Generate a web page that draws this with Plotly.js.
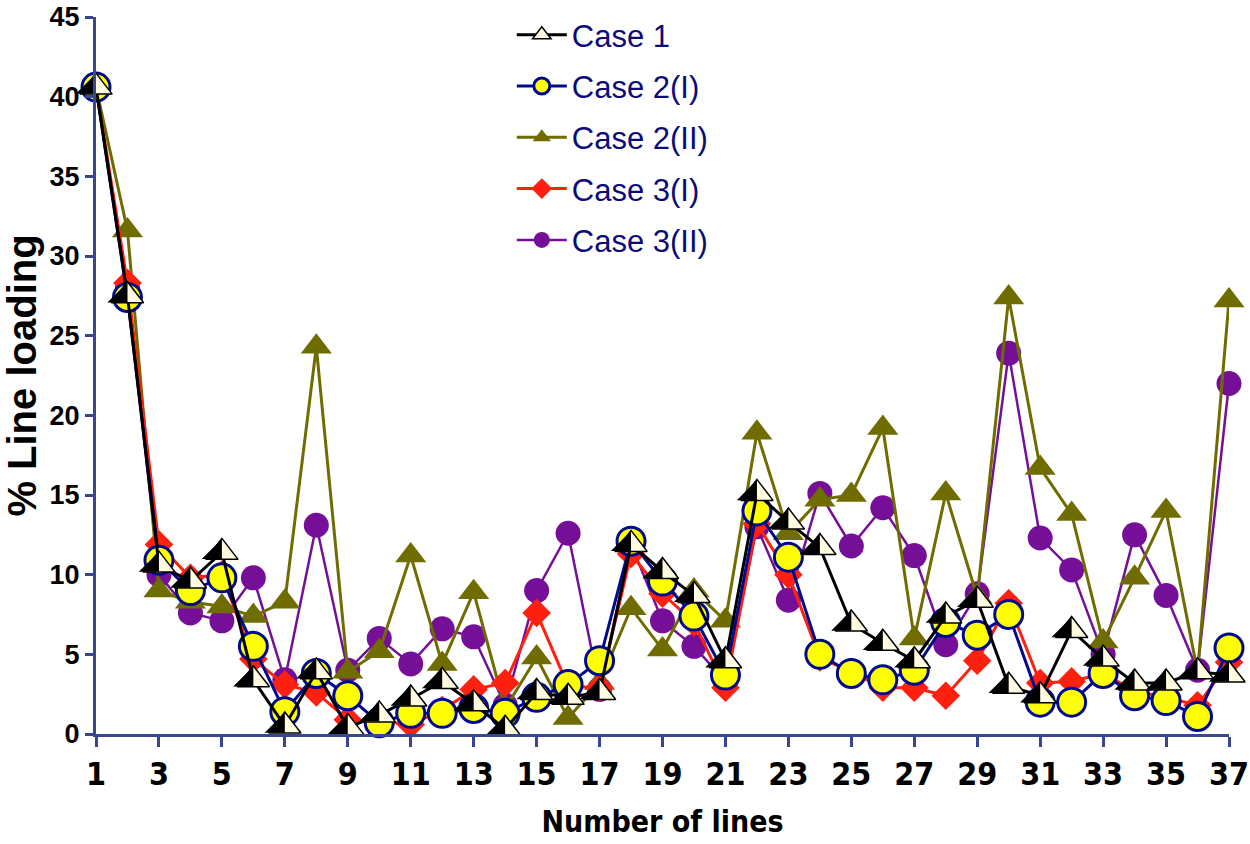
<!DOCTYPE html>
<html>
<head>
<meta charset="utf-8">
<script src="https://cdn.plot.ly/plotly-3.0.1.min.js"></script>
<style>
  html, body { margin: 0; padding: 0; background: #ffffff; }
  #chart { width: 1250px; height: 844px; }
</style>
</head>
<body>
<div id="chart"></div>
<script>
// Line number along the network
const lineNo = [1, 2, 3, 4, 5, 6, 7, 8, 9, 10, 11, 12, 13, 14, 15, 16, 17, 18, 19,
  20, 21, 22, 23, 24, 25, 26, 27, 28, 29, 30, 31, 32, 33, 34, 35, 36, 37];

// % line loading for each case
const case1 = [40.6, 27.5, 10.6, 9.6, 11.4, 3.4, 0.5, 3.9, 0.4, 1.2, 2.2, 3.3, 1.9, 0.3,
  2.6, 2.3, 2.6, 11.9, 10.2, 8.7, 4.6, 15.1, 13.3, 11.7, 6.9, 5.7, 4.6, 7.4, 8.4,
  3.0, 2.4, 6.5, 4.7, 3.2, 3.2, 3.9, 3.7];
const case2I = [40.6, 27.4, 10.9, 9.0, 9.8, 5.5, 1.4, 3.8, 2.4, 0.7, 1.3, 1.3, 1.6, 1.3,
  2.3, 3.1, 4.6, 12.1, 9.6, 7.4, 3.7, 14.0, 11.1, 5.0, 3.8, 3.4, 4.0, 7.0, 6.2,
  7.5, 2.0, 2.0, 3.8, 2.4, 2.1, 1.1, 5.4];
const case2II = [40.6, 31.6, 9.0, 8.3, 8.0, 7.4, 8.3, 24.3, 3.9, 5.2, 11.2, 4.4, 8.9, 1.6,
  4.8, 1.0, 3.2, 7.9, 5.3, 9.0, 7.1, 18.9, 12.6, 14.7, 15.0, 19.2, 6.0, 15.1, 8.6,
  27.4, 16.7, 13.8, 5.8, 9.8, 14.0, 3.9, 27.2];
const case3I = [40.6, 28.3, 11.9, 9.8, 10.0, 4.7, 3.1, 2.6, 0.9, 0.8, 0.6, 1.5, 2.8, 3.2,
  7.6, 3.0, 2.9, 11.3, 8.8, 7.0, 2.9, 13.2, 10.0, 4.8, 3.9, 2.9, 2.9, 2.4, 4.6,
  8.2, 3.2, 3.3, 3.8, 2.7, 2.3, 1.8, 4.5];
const case3II = [40.6, 28.0, 10.0, 7.6, 7.1, 9.8, 3.4, 13.1, 4.0, 6.0, 4.4, 6.6, 6.1, 1.8,
  9.0, 12.6, 2.8, 11.9, 7.1, 5.5, 3.3, 13.0, 8.4, 15.1, 11.8, 14.2, 11.2, 5.6, 8.8,
  23.9, 12.3, 10.3, 5.0, 12.5, 8.7, 4.0, 22.0];

// Axis tick labels
const xTickVals = [1, 3, 5, 7, 9, 11, 13, 15, 17, 19, 21, 23, 25, 27, 29, 31, 33, 35, 37];
const xTickText = ['1', '3', '5', '7', '9', '11', '13', '15', '17', '19', '21', '23', '25',
  '27', '29', '31', '33', '35', '37'];
const yTickVals = [0, 5, 10, 15, 20, 25, 30, 35, 40, 45];

const AXIS = '#3b4690';
const LEGEND_TEXT = '#0b0b7a';
const NARROW = '"Liberation Sans Narrow", "DejaVu Sans Condensed", "Liberation Sans", Arial, sans-serif';
const SANS = '"Liberation Sans", Arial, sans-serif';

const TRI = 28;  // size of the Case 1 triangles

const base = { x: lineNo, type: 'scatter', mode: 'lines+markers', cliponaxis: false };

const traces = [
  Object.assign({}, base, {
    name: 'Case 3(II)', y: case3II, legendgroup: 'g5', legendrank: 5,
    line: { color: '#750f98', width: 2.5 },
    marker: { symbol: 'circle', size: 25, color: '#750f98' }
  }),
  Object.assign({}, base, {
    name: 'Case 2(II)', y: case2II, legendgroup: 'g3', legendrank: 3,
    line: { color: '#6f6c00', width: 3 },
    marker: { symbol: 'triangle-up', size: 27, color: '#6f6c00' }
  }),
  Object.assign({}, base, {
    name: 'Case 3(I)', y: case3I, legendgroup: 'g4', legendrank: 4,
    line: { color: '#ff2010', width: 3 },
    marker: { symbol: 'diamond', size: 22, color: '#ff2010' }
  }),
  Object.assign({}, base, {
    name: 'Case 2(I)', y: case2I, legendgroup: 'g2', legendrank: 2,
    line: { color: '#000a8c', width: 3 },
    marker: { symbol: 'circle', size: 28, color: '#ffff00', line: { color: '#000a8c', width: 3 } }
  }),
  Object.assign({}, base, {
    name: 'Case 1', y: case1, legendgroup: 'g1', legendrank: 1,
    line: { color: '#000000', width: 3 },
    marker: { symbol: 'triangle-up', size: TRI, color: '#fffbe0', line: { color: '#000000', width: 1.5 } }
  }),
  // dark left half of each Case 1 triangle
  Object.assign({}, base, {
    name: 'Case 1', y: case1, legendgroup: 'g1', showlegend: false, mode: 'markers',
    hoverinfo: 'skip',
    marker: {
      symbol: 'triangle-ne', angle: 90, size: TRI * 0.8, standoff: TRI * 0.8 * 0.3,
      color: '#000000', line: { width: 0 }
    }
  })
];

const layout = {
  width: 1250,
  height: 844,
  paper_bgcolor: '#ffffff',
  plot_bgcolor: '#ffffff',
  margin: { l: 96, r: 21, t: 17, b: 110, autoexpand: false },
  showlegend: true,
  legend: {
    x: 0.367, y: 1.0125, xanchor: 'left', yanchor: 'top',
    bgcolor: 'rgba(0,0,0,0)',
    font: { family: SANS, size: 31, color: LEGEND_TEXT },
    itemwidth: 50,
    tracegroupgap: 8,
    itemsizing: 'trace'
  },
  xaxis: {
    range: [1, 37],
    showgrid: false, zeroline: false,
    showline: true, linecolor: AXIS, linewidth: 3,
    ticks: 'outside', ticklen: 10, tickwidth: 3, tickcolor: AXIS,
    tickmode: 'array', tickvals: xTickVals, ticktext: xTickText,
    tickfont: { family: NARROW, size: 32, color: '#000000', weight: 'bold' },
    title: {
      text: 'Number of lines', standoff: 19,
      font: { family: NARROW, size: 30, color: '#000000', weight: 'bold' }
    }
  },
  yaxis: {
    range: [0, 45],
    showgrid: false, zeroline: false,
    showline: true, linecolor: AXIS, linewidth: 3,
    ticks: 'outside', ticklen: 8, tickwidth: 3, tickcolor: AXIS,
    tickmode: 'array', tickvals: yTickVals,
    tickfont: { family: SANS, size: 27, color: '#000000', weight: 'bold' },
    title: {
      text: '% Line loading', standoff: 5,
      font: { family: SANS, size: 40, color: '#000000', weight: 'bold' }
    }
  }
};

Plotly.newPlot('chart', traces, layout, { displayModeBar: false, staticPlot: true });
</script>
</body>
</html>
